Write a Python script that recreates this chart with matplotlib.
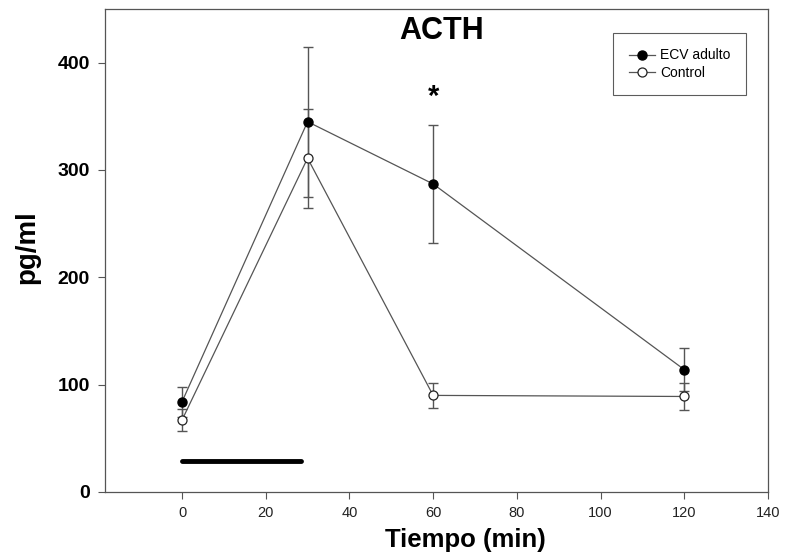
import numpy as np
import matplotlib.pyplot as plt

plt.rcParams['font.family'] = ['Liberation Sans', 'DejaVu Sans']

# ACTH data
tiempo = [0, 30, 60, 120]
ecv = [84, 345, 287, 114]
ecv_err = [14, 70, 55, 20]
control = [67, 311, 90, 89]
control_err = [10, 46, 12, 13]

# stimulus bar
bar_x = [0, 28.5]
bar_y = [29, 29]

xticks = [0, 20, 40, 60, 80, 100, 120, 140]
yticks = [0, 100, 200, 300, 400]

fig = plt.figure(figsize=(7.89, 5.59), dpi=100)
ax = fig.add_axes([105/789, 1 - 492/559, 663/789, 483/559])

lc = '#555555'
ax.errorbar(tiempo, control, yerr=control_err, fmt='none', ecolor=lc,
            elinewidth=1, capsize=3.5, capthick=1, zorder=2)
ax.errorbar(tiempo, ecv, yerr=ecv_err, fmt='none', ecolor=lc,
            elinewidth=1, capsize=3.5, capthick=1, zorder=2)
ax.plot(tiempo, control, '-o', color=lc, lw=0.9, mfc='white', mec='#222222',
        mew=0.9, ms=6.5, label='Control', zorder=3)
ax.plot(tiempo, ecv, '-o', color=lc, lw=0.9, mfc='black', mec='black',
        ms=6.5, label='ECV adulto', zorder=4)

ax.plot(bar_x, bar_y, color='black', lw=3.5, solid_capstyle='round')

ax.text(60, 368, '*', ha='center', va='center', fontsize=21, fontweight='bold')
ax.text(0.507, 0.955, 'ACTH', transform=ax.transAxes, ha='center', va='center',
        fontsize=22, fontweight='bold')

ax.set_xlim(-18.4, 140)
ax.set_ylim(0, 450)
ax.set_xticks(xticks)
ax.set_yticks(yticks)
ax.set_xticklabels([str(t) for t in xticks], fontsize=10.5, color='#222222')
ax.set_yticklabels([str(t) for t in yticks], fontsize=14, fontweight='bold')
ax.tick_params(direction='out', length=5, width=0.8, color='#555555')
ax.tick_params(axis='x', pad=5)
ax.tick_params(axis='y', pad=6)
for s in ax.spines.values():
    s.set_color('#555555')
    s.set_linewidth(0.9)

ax.set_xlabel('Tiempo (min)', fontsize=18.5, fontweight='bold', labelpad=4)
ax.xaxis.set_label_coords(0.543, -0.075)
ax.set_ylabel('pg/ml', fontsize=20, fontweight='bold')
ax.yaxis.set_label_coords(-0.098, 0.507)

h, l = ax.get_legend_handles_labels()
leg = ax.legend(h[::-1], l[::-1], loc='upper right', bbox_to_anchor=(0.967, 0.950),
                borderaxespad=0, fancybox=False, edgecolor='#333333', fontsize=10,
                handlelength=1.9, handletextpad=0.4, labelspacing=0.25,
                borderpad=1.1)
leg.get_frame().set_linewidth(0.8)

fig.savefig('out.png', dpi=100)
